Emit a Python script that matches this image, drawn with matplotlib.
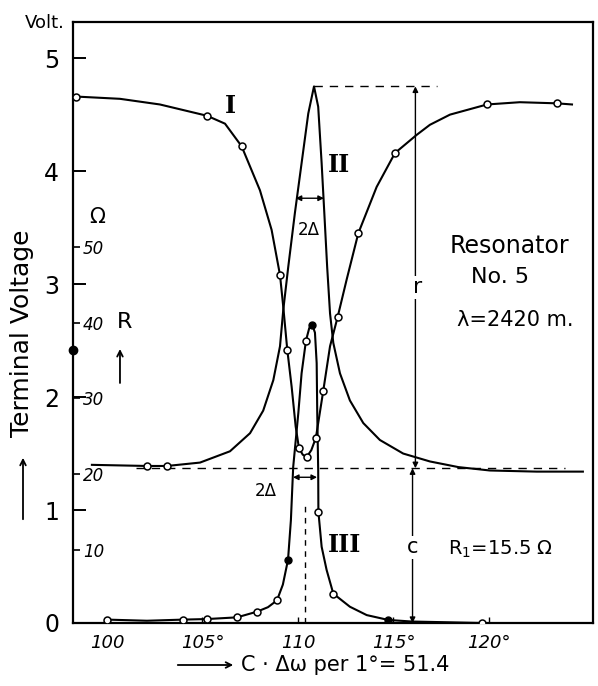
import matplotlib
matplotlib.use("Agg")
import matplotlib.pyplot as plt
import numpy as np

# curve I : terminal voltage, dips at resonance
c1_x = [98.38, 100.68, 102.77, 105.24, 106.18, 107.05, 108.01, 108.62, 109.06, 109.23,
        109.44, 109.67, 109.88, 110.05, 110.25, 110.46, 110.7, 110.94, 111.32, 111.68,
        112.08, 112.55, 113.16, 114.12, 115.08, 116.21, 116.91, 117.96, 119.90, 121.62,
        123.56, 124.35]
c1_v = [4.66, 4.64, 4.59, 4.49, 4.42, 4.22, 3.83, 3.48, 3.08, 2.80,
        2.42, 2.09, 1.74, 1.55, 1.49, 1.47, 1.53, 1.64, 2.05, 2.45,
        2.71, 3.04, 3.45, 3.86, 4.16, 4.32, 4.41, 4.50, 4.59, 4.61,
        4.60, 4.59]
c1_pts_x = [98.38, 105.24, 107.05, 109.06, 109.44, 110.05, 110.46, 110.94, 111.32, 112.08,
            113.16, 115.08, 119.90, 123.56]
c1_pts_v = [4.66, 4.49, 4.22, 3.08, 2.42, 1.55, 1.47, 1.64, 2.05, 2.71,
            3.45, 4.16, 4.59, 4.60]

# curve II : resistance R (drawn on the volt scale)
c2_x = [99.21, 102.09, 103.14, 104.87, 106.44, 107.49, 108.18, 108.71, 109.06, 109.23,
        109.49, 109.84, 110.19, 110.54, 110.84, 111.06, 111.24, 111.38, 111.53, 111.68,
        111.85, 112.20, 112.72, 113.42, 114.29, 115.51, 116.91, 118.4, 120.05, 122.5,
        124.92]
c2_v = [1.40, 1.39, 1.39, 1.42, 1.52, 1.68, 1.88, 2.15, 2.45, 2.77,
        3.15, 3.63, 4.07, 4.51, 4.75, 4.57, 4.07, 3.63, 3.15, 2.74,
        2.48, 2.21, 1.97, 1.77, 1.62, 1.50, 1.43, 1.38, 1.35, 1.34,
        1.34]
c2_pts_x = [102.09, 103.14]
c2_pts_v = [1.39, 1.39]

# curve III
c3_x = [100.0, 102.09, 103.98, 105.24, 106.81, 107.85, 108.43, 108.9, 109.21, 109.48,
        109.63, 109.75, 110.02, 110.19, 110.42, 110.59, 110.75, 110.89, 110.98, 111.01,
        111.06, 111.07, 111.24, 111.5, 111.85, 112.72, 113.6, 114.73, 115.97, 117.96,
        119.63]
c3_v = [0.03, 0.02, 0.03, 0.035, 0.05, 0.10, 0.14, 0.20, 0.34, 0.56,
        0.91, 1.38, 1.86, 2.21, 2.50, 2.61, 2.64, 2.57, 2.30, 1.86,
        1.35, 0.985, 0.675, 0.47, 0.26, 0.144, 0.07, 0.027, 0.013, 0.006,
        0.0]
c3_open_x = [100.0, 103.98, 105.24, 106.81, 107.85, 108.9, 110.42, 111.07, 111.85, 119.63]
c3_open_v = [0.03, 0.03, 0.035, 0.05, 0.10, 0.20, 2.50, 0.985, 0.26, 0.0]
c3_full_x = [109.48, 110.75, 114.73]
c3_full_v = [0.56, 2.64, 0.027]

volt_ticks = [0, 1, 2, 3, 4, 5]
ohm_ticks = [10, 20, 30, 40, 50]
deg_ticks = [100, 105, 110, 115, 120]
deg_labels = ["100", "105°", "110", "115°", "120°"]

v_base = 1.37      # level of c
v_peak = 4.75      # top of r
x_res = 110.37
x_r = 116.15
x_c = 116.0


def ohm_to_volt(r):
    return 0.0671 * r - 0.025


def volt_to_ohm(v):
    return (v + 0.025) / 0.0671


fig = plt.figure(figsize=(5.98, 6.86), dpi=100)
ax = fig.add_axes([73/598, 63/686, 520/598, 601/686])
ax.set_xlim(98.22, 125.45)
ax.set_ylim(0, 5.32)
for s in ax.spines.values():
    s.set_linewidth(1.6)

ax.set_yticks(volt_ticks)
ax.set_yticklabels([str(v) for v in volt_ticks], fontsize=17)
ax.tick_params(axis="y", direction="in", length=9, width=1.4, pad=10)
ax.set_xticks(deg_ticks)
ax.set_xticklabels(deg_labels, fontsize=13, style="italic")
ax.tick_params(axis="x", direction="in", length=4, width=1.0, pad=8)

# ohm scale inside the left spine
sec = ax.secondary_yaxis(0.0, functions=(volt_to_ohm, ohm_to_volt))
sec.set_alignment("right")
sec.set_yticks(ohm_ticks)
sec.set_yticklabels([str(r) for r in ohm_ticks], fontsize=12, style="italic")
sec.tick_params(direction="out", length=5, width=1.2, pad=2)
sec.spines["right"].set_visible(False)
sec.spines["left"].set_visible(False)

lw = 1.5
ax.plot(c1_x, c1_v, color="black", lw=lw)
ax.plot(c2_x, c2_v, color="black", lw=lw)
ax.plot(c3_x, c3_v, color="black", lw=lw)
mk = dict(linestyle="none", marker="o", markersize=5, markerfacecolor="white",
          markeredgecolor="black", markeredgewidth=1.1, zorder=5)
ax.plot(c1_pts_x, c1_pts_v, **mk)
ax.plot(c2_pts_x, c2_pts_v, **mk)
ax.plot(c3_open_x, c3_open_v, **mk)
ax.plot(c3_full_x, c3_full_v, linestyle="none", marker="o", markersize=5,
        color="black", zorder=5)
ax.plot([98.22], [2.42], marker="o", markersize=6, color="black", clip_on=False, zorder=6)

# dashed guide lines
ax.plot([110.84, 117.3], [v_peak, v_peak], color="black", lw=1.0, ls=(0, (6, 5)))
ax.plot([101.5, 124.0], [v_base, v_base], color="black", lw=1.0, ls=(0, (6, 5)))
ax.plot([x_res, x_res], [0, 1.05], color="black", lw=1.0, ls=(0, (4, 4)))

arr = dict(arrowstyle="<|-|>", color="black", lw=1.0, mutation_scale=8, shrinkA=0, shrinkB=0)
ax.annotate("", xy=(x_r, v_peak), xytext=(x_r, v_base), arrowprops=arr)
ax.annotate("", xy=(x_c, v_base), xytext=(x_c, 0), arrowprops=arr)
ax.annotate("", xy=(109.88, 3.76), xytext=(111.36, 3.76), arrowprops=arr)
ax.annotate("", xy=(109.74, 1.29), xytext=(111.0, 1.29), arrowprops=arr)

ax.text(x_r + 0.1, 2.97, "r", fontsize=16, ha="center", va="center",
        bbox=dict(facecolor="white", edgecolor="none", pad=1))
ax.text(x_c, 0.67, "c", fontsize=15, ha="center", va="center",
        bbox=dict(facecolor="white", edgecolor="none", pad=1))
ax.text(110.55, 3.48, "2Δ", fontsize=12, ha="center", va="center")
ax.text(108.3, 1.17, "2Δ", fontsize=12, ha="center", va="center")

roman = dict(family="DejaVu Serif", weight="bold", fontsize=17, ha="center", va="center")
ax.text(106.44, 4.58, "I", **roman)
ax.text(112.15, 4.05, "II", **roman)
ax.text(112.46, 0.69, "III", **roman)

ax.text(121.1, 3.34, "Resonator", fontsize=17, ha="center", va="center")
ax.text(120.6, 3.06, "No. 5", fontsize=16, ha="center", va="center")
ax.text(121.4, 2.68, "λ=2420 m.", fontsize=15, ha="center", va="center")
ax.text(120.6, 0.65, "R$_1$=15.5 Ω", fontsize=14, ha="center", va="center")

ax.text(99.5, 3.59, "Ω", fontsize=15, ha="center", va="center")
ax.text(100.94, 2.66, "R", fontsize=16, ha="center", va="center")
ax.annotate("", xy=(100.68, 2.45), xytext=(100.68, 2.10),
            arrowprops=dict(arrowstyle="->", color="black", lw=1.3))

fig.text(45/598, 1 - 23/686, "Volt.", fontsize=13, ha="center", va="center")
fig.text(22/598, 1 - 333/686, "Terminal Voltage", fontsize=18, rotation=90,
         ha="center", va="center")
ax.annotate("", xy=(23/598, 1 - 455/686), xytext=(23/598, 1 - 522/686),
            xycoords="figure fraction", textcoords="figure fraction",
            arrowprops=dict(arrowstyle="->", color="black", lw=1.3))
ax.annotate("", xy=(236/598, 1 - 665/686), xytext=(175/598, 1 - 665/686),
            xycoords="figure fraction", textcoords="figure fraction",
            arrowprops=dict(arrowstyle="->", color="black", lw=1.3))
fig.text(241/598, 1 - 665/686, "C · Δω per 1°= 51.4", fontsize=15,
         ha="left", va="center")

fig.savefig("out.png", dpi=100)
